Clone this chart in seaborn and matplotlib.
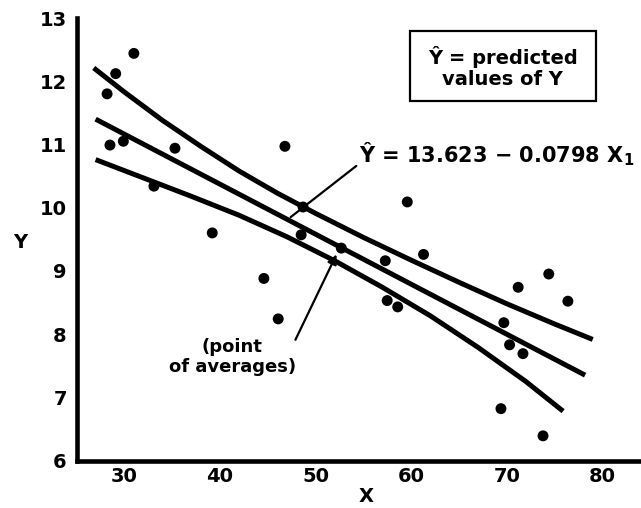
import matplotlib
matplotlib.use("Agg")
import matplotlib.pyplot as plt
import seaborn as sns
from matplotlib.patches import Rectangle

# ---- data ----
x_vals = [28.2, 29.1, 31.0, 28.5, 29.9, 33.1, 35.3, 39.2, 44.6, 46.1, 46.8, 48.7, 48.5, 52.7,
          57.3, 57.5, 58.6, 59.6, 61.3, 69.4, 69.7, 70.3, 71.2, 71.7, 73.8, 74.4, 76.4]
y_vals = [11.80, 12.12, 12.44, 10.99, 11.05, 10.34, 10.94, 9.60, 8.88, 8.24, 10.97, 10.01, 9.57, 9.36,
          9.16, 8.53, 8.43, 10.09, 9.26, 6.82, 8.18, 7.83, 8.74, 7.69, 6.39, 8.95, 8.52]

mid_x = [27.0, 78.2]
mid_y = [11.40, 7.35]

upper_x = [26.8, 30, 34, 38, 42, 46, 50, 55, 60, 65, 70, 75, 79]
upper_y = [12.21, 11.83, 11.38, 10.97, 10.58, 10.23, 9.91, 9.53, 9.17, 8.82, 8.48, 8.16, 7.915]

lower_x = [27, 32, 37, 42, 47, 52, 57, 62, 67, 72, 75.9]
lower_y = [10.76, 10.47, 10.18, 9.88, 9.54, 9.16, 8.74, 8.29, 7.79, 7.25, 6.78]

x_ticks = [30, 40, 50, 60, 70, 80]
y_ticks = [6, 7, 8, 9, 10, 11, 12, 13]

legend_text = "Ŷ = predicted\nvalues of Y"
equation_text = r"Ŷ = 13.623 − 0.0798 X$_\mathbf{1}$"
avg_text = "(point\nof averages)"

# ---- style ----
sns.set_theme(style="white")
plt.rcParams["font.family"] = ["DejaVu Sans"]
plt.rcParams["font.weight"] = "bold"
plt.rcParams["text.color"] = "black"
plt.rcParams["axes.labelcolor"] = "black"
plt.rcParams["xtick.color"] = "black"
plt.rcParams["ytick.color"] = "black"
plt.rcParams["mathtext.fontset"] = "custom"
plt.rcParams["mathtext.rm"] = "DejaVu Sans:bold"
plt.rcParams["mathtext.bf"] = "DejaVu Sans:bold"
plt.rcParams["mathtext.it"] = "DejaVu Sans:bold"

W, H = 641, 508
fig = plt.figure(figsize=(W / 100, H / 100), dpi=100)
ax = fig.add_axes([76.5 / W, 1 - 460.5 / H, 1 - 76.5 / W, (460.5 - 18) / H])

lw = 3.6
for bx, by in [(upper_x, upper_y), (mid_x, mid_y), (lower_x, lower_y)]:
    sns.lineplot(x=bx, y=by, ax=ax, color="black", lw=lw, sort=False, estimator=None,
                 solid_joinstyle="round", solid_capstyle="butt")
sns.scatterplot(x=x_vals, y=y_vals, ax=ax, color="black", s=62, edgecolor="none", zorder=5)

ax.set_xlim(25.0, 25.0 + (W - 76.5) / 9.56)
ax.set_ylim(6, 13)
ax.set_xticks(x_ticks)
ax.set_yticks(y_ticks)
ax.set_xticklabels([str(v) for v in x_ticks], fontsize=14, fontweight="bold", color="black")
ax.set_yticklabels([str(v) for v in y_ticks], fontsize=14, fontweight="bold", color="black")
ax.tick_params(axis="both", direction="in", length=9.5, width=1.5, color="black")
ax.tick_params(axis="x", pad=5)
ax.tick_params(axis="y", pad=7)
for s in ["top", "right"]:
    ax.spines[s].set_visible(False)
for s in ["left", "bottom"]:
    ax.spines[s].set_linewidth(3.3)
    ax.spines[s].set_color("black")
    ax.spines[s].set_capstyle("projecting")
ax.set_xlabel("")
ax.set_ylabel("")
ax.grid(False)

fig.text(20 / W, 1 - 242 / H, "Y", fontsize=14, fontweight="bold", ha="center", va="center",
         color="black")
fig.text(366 / W, 1 - 497 / H, "X", fontsize=14, fontweight="bold", ha="center", va="center",
         color="black")

# legend box
ax.add_patch(Rectangle((59.9, 11.69), 79.3 - 59.9, 12.79 - 11.69, fill=False, lw=1.6,
                       edgecolor="black", clip_on=False, zorder=6))
ax.text(69.6, 12.22, legend_text, ha="center", va="center", fontsize=14, fontweight="bold",
        multialignment="center", linespacing=1.15, zorder=7, color="black")

# equation and pointer line
ax.text(54.6, 10.71, equation_text, ha="left", va="baseline", fontsize=15, fontweight="bold",
        clip_on=False, color="black")
ax.annotate("", xy=(47.4, 9.85), xytext=(54.27, 10.66),
            arrowprops=dict(arrowstyle="-", lw=1.6, color="black", shrinkA=0, shrinkB=0))

# point of averages
ax.text(41.3, 7.64, avg_text, ha="center", va="center", fontsize=13, fontweight="bold",
        multialignment="center", linespacing=1.1, color="black")
ax.annotate("", xy=(52.2, 9.26), xytext=(47.9, 7.91),
            arrowprops=dict(arrowstyle="-|>", lw=1.6, color="black", shrinkA=0, shrinkB=0,
                            mutation_scale=14))

fig.savefig("out.png", dpi=100)
